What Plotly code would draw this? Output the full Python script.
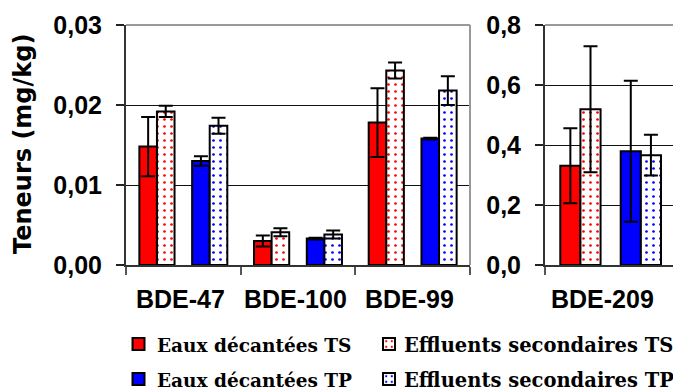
import plotly.graph_objects as go

# data (mg/kg)
congeners = ['BDE-47', 'BDE-100', 'BDE-99']
congener_209 = ['BDE-209']

ts_dec = [0.0148, 0.0030, 0.0178]
ts_dec_err = [0.0037, 0.0007, 0.0043]
ts_eff = [0.0192, 0.0041, 0.0243]
ts_eff_err = [0.0007, 0.0005, 0.0010]
tp_dec = [0.0130, 0.0033, 0.0158]
tp_dec_err = [0.0006, 0.0001, 0.0001]
tp_eff = [0.0174, 0.0038, 0.0218]
tp_eff_err = [0.0010, 0.0005, 0.0018]

ts_dec_209 = [0.331]
ts_dec_209_err = [0.125]
ts_eff_209 = [0.519]
ts_eff_209_err = [0.21]
tp_dec_209 = [0.379]
tp_dec_209_err = [0.235]
tp_eff_209 = [0.366]
tp_eff_209_err = [0.068]

names = ['Eaux décantées TS', 'Effluents secondaires TS',
         'Eaux décantées TP', 'Effluents secondaires TP']

RED = '#FF0000'
BLUE = '#0000FF'
W, H = 673, 390


def bar(x, y, err, name, color, dotted, xa, ya, legend, show):
    if dotted:
        marker = dict(color='white', line=dict(color='black', width=2),
                      pattern=dict(shape='.', fgcolor=color, bgcolor='white',
                                   size=7, solidity=0.12, fillmode='replace'))
    else:
        marker = dict(color=color, line=dict(color='black', width=2))
    # legend entries only carry the swatch, the text is an annotation
    return go.Bar(x=x, y=y, name='', marker=marker, xaxis=xa, yaxis=ya,
                  legend=legend, showlegend=show, hovertext=name,
                  error_y=dict(type='data', array=err, color='black',
                               thickness=2, width=7))


def blank(x, xa, ya):
    # empty slot between the TS pair and the TP pair
    return go.Bar(x=x, y=[0] * len(x), xaxis=xa, yaxis=ya, showlegend=False,
                  marker=dict(color='white', line=dict(width=0)), hoverinfo='skip')


fig = go.Figure()

# left panel
fig.add_trace(bar(congeners, ts_dec, ts_dec_err, names[0], RED, False, 'x', 'y', 'legend', True))
fig.add_trace(bar(congeners, ts_eff, ts_eff_err, names[1], RED, True, 'x', 'y', 'legend2', True))
fig.add_trace(blank(congeners, 'x', 'y'))
fig.add_trace(bar(congeners, tp_dec, tp_dec_err, names[2], BLUE, False, 'x', 'y', 'legend3', True))
fig.add_trace(bar(congeners, tp_eff, tp_eff_err, names[3], BLUE, True, 'x', 'y', 'legend4', True))

# right panel
fig.add_trace(bar(congener_209, ts_dec_209, ts_dec_209_err, names[0], RED, False, 'x2', 'y2', 'legend', False))
fig.add_trace(bar(congener_209, ts_eff_209, ts_eff_209_err, names[1], RED, True, 'x2', 'y2', 'legend', False))
fig.add_trace(blank(congener_209, 'x2', 'y2'))
fig.add_trace(bar(congener_209, tp_dec_209, tp_dec_209_err, names[2], BLUE, False, 'x2', 'y2', 'legend', False))
fig.add_trace(bar(congener_209, tp_eff_209, tp_eff_209_err, names[3], BLUE, True, 'x2', 'y2', 'legend', False))

tickfont = dict(family='Liberation Sans', size=25, color='black', weight='bold')
ydom = [1 - 265 / H, 1 - 25 / H]

xax = dict(type='category', showline=True, linecolor='#333333', linewidth=2,
           ticks='outside', tickson='boundaries', ticklen=8, tickcolor='#555555',
           tickwidth=1.5, showticklabels=False, showgrid=False, automargin=False)
yax = dict(showline=True, linecolor='#333333', linewidth=2, ticks='outside',
           ticklen=8, tickcolor='#222222', tickwidth=1.5, tickfont=tickfont,
           showgrid=True, gridcolor='#111111', gridwidth=1, zeroline=False,
           domain=ydom, ticklabelstandoff=9, automargin=False)

fig.update_layout(
    width=W, height=H,
    margin=dict(l=0, r=0, t=0, b=0, autoexpand=False),
    paper_bgcolor='white', plot_bgcolor='white',
    separators=', ',
    barmode='group', bargap=0.233, bargroupgap=0,
    xaxis=dict(xax, domain=[126 / W, 470 / W], range=[-0.5, 2.5], anchor='y'),
    xaxis2=dict(xax, domain=[545 / W, 1], range=[-0.5, 0.475], anchor='y2'),
    yaxis=dict(yax, range=[0, 0.03], dtick=0.01, tickformat='.2f', anchor='x'),
    yaxis2=dict(yax, range=[0, 0.8], dtick=0.2, tickformat='.1f', anchor='x2'),
)

# legend swatches (one small legend per entry) + text as annotations
row_y = [344, 379]
col_x = [139.5, 390]
col_text = [154.5, 402]
col_font = [18.5, 19.5]
leg_keys = ['legend', 'legend2', 'legend3', 'legend4']
for i, key in enumerate(leg_keys):
    cx, cy = col_x[i % 2], row_y[i // 2]
    fig.update_layout({key: dict(x=(cx - 21) / W, y=1 - cy / H, xanchor='left', yanchor='middle',
                                 font=dict(size=12), bgcolor='rgba(0,0,0,0)',
                                 orientation='v', itemclick=False, itemwidth=30)})
    fig.add_annotation(text=names[i], x=col_text[i % 2] / W, y=1 - (cy + 1) / H,
                       xref='paper', yref='paper', showarrow=False,
                       xanchor='left', yanchor='middle',
                       font=dict(family='DejaVu Serif', size=col_font[i % 2],
                                 color='black', weight='bold'))

# frame of the plot areas (grey top / right edges)
for xr, yr, right in [('x domain', 'y domain', True), ('x2 domain', 'y2 domain', False)]:
    fig.add_shape(type='line', xref=xr, yref=yr, x0=0, x1=1, y0=1, y1=1,
                  line=dict(color='#999999', width=2))
    if right:
        fig.add_shape(type='line', xref=xr, yref=yr, x0=1, x1=1, y0=0, y1=1,
                      line=dict(color='#999999', width=2))

# axis title
fig.add_annotation(text='Teneurs (mg/kg)', x=23 / W, y=1 - 144 / H, xref='paper', yref='paper',
                   textangle=-90, showarrow=False, xanchor='center', yanchor='middle',
                   font=dict(family='DejaVu Sans', size=24, color='black', weight='bold'))

# category labels under the panels
for i, lab in enumerate(congeners):
    fig.add_annotation(text=lab, x=lab, xref='x', xshift=-3, y=1 - 299 / H, yref='paper',
                       showarrow=False, xanchor='center', yanchor='middle', font=tickfont)
fig.add_annotation(text=congener_209[0], x=congener_209[0], xref='x2', xshift=-8,
                   y=1 - 299 / H, yref='paper',
                   showarrow=False, xanchor='center', yanchor='middle', font=tickfont)

# the page body has a default 8px margin; drop it so the figure fills the window
fig.write_html('out.html', config={'displayModeBar': False},
               post_script="document.body.style.margin='0px';")
